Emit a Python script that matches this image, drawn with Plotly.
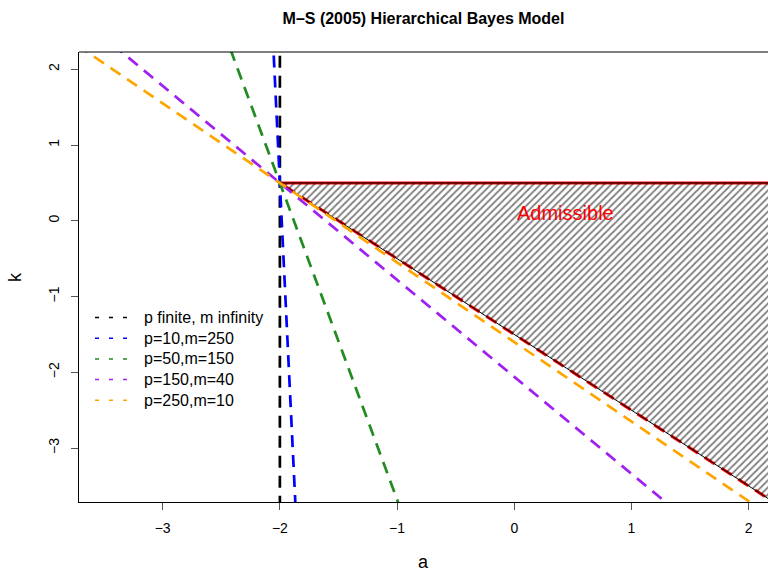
import plotly.graph_objects as go

# ---- data ----
series_names = ["p finite, m infinity", "p=10,m=250", "p=50,m=150", "p=150,m=40", "p=250,m=10"]
series_colors = ["#000000", "#0000FF", "#228B22", "#A020F0", "#FFA500"]
# slopes of the lines k = pivot_k + slope * (a - pivot_a); None = vertical
series_slopes = [None, -32.0, -4.18, -1.28, -1.05]
pivot_a = -2.0
pivot_k = 0.5

# admissible region (hatched), extends past the right edge of the plot
admissible_a = [-2.0, 3.0, 3.0, -2.0]
admissible_k = [0.5, 0.5, -4.5, 0.5]

x_ticks = [-3, -2, -1, 0, 1, 2]
y_ticks = [-3, -2, -1, 0, 1, 2]
x_range = [-3.714, 2.165]
y_range = [-3.712, 2.228]

k_ends = [3.5, -5.5]

W, H = 768, 571
L, R, T, B = 79, 0, 52, 69
PW, PH = W - L - R, H - T - B

font_family = "Liberation Sans, Arial, sans-serif"

fig = go.Figure()

# red boundary lines (top edge solid, diagonal edge dashed)
fig.add_trace(go.Scatter(x=admissible_a[:2], y=admissible_k[:2],
                         mode="lines", line=dict(color="#FF0000", width=3), showlegend=False, hoverinfo="skip"))
fig.add_trace(go.Scatter(x=admissible_a[2:], y=admissible_k[2:], mode="lines",
                         line=dict(color="#FF0000", width=3, dash="12px,8px"), showlegend=False, hoverinfo="skip"))

# hatched admissible polygon
fig.add_trace(go.Scatter(x=admissible_a, y=admissible_k, mode="lines", fill="toself",
                         fillcolor="rgba(0,0,0,0)",
                         fillpattern=dict(shape="/", size=5, solidity=0.35, fgcolor="#000000", bgcolor="rgba(0,0,0,0)"),
                         line=dict(color="#000000", width=1), showlegend=False, hoverinfo="skip"))

# the five dashed lines
for name, col, s in zip(series_names, series_colors, series_slopes):
    if s is None:
        xs = [pivot_a, pivot_a]
    else:
        xs = [pivot_a + (k - pivot_k) / s for k in k_ends]
    fig.add_trace(go.Scatter(x=xs, y=k_ends, mode="lines", name=name,
                             line=dict(color=col, width=2.7, dash="12px,8px"), showlegend=False))

# legend (R style, no box): thin dashed samples + labels
leg_x0, leg_x1, leg_tx = 95, 128, 142
leg_y0, leg_dy = 317.5, 20.7
for i, (name, col) in enumerate(zip(series_names, series_colors)):
    ypx = leg_y0 + i * leg_dy
    yp = 1 - (ypx - T) / PH
    fig.add_shape(type="line", xref="paper", yref="paper",
                  x0=(leg_x0 - L) / PW, x1=(leg_x1 - L) / PW, y0=yp, y1=yp,
                  line=dict(color=col, width=1.5, dash="4px,10px"))
    fig.add_annotation(x=(leg_tx - L) / PW, y=yp, xref="paper", yref="paper", text=name,
                       showarrow=False, xanchor="left", yanchor="middle",
                       font=dict(family=font_family, size=16, color="#000000"))

fig.add_annotation(x=0.44, y=0.1, xref="x", yref="y", text="Admissible", showarrow=False,
                   font=dict(family=font_family, size=20, color="#FF0000"))

fig.add_annotation(x=0.5, y=0, xref="paper", yref="paper", yshift=-60, text="a", showarrow=False,
                   yanchor="middle", font=dict(family=font_family, size=18, color="#000000"))
fig.add_annotation(x=0, y=0.5, xref="paper", yref="paper", xshift=-64, text="k", showarrow=False,
                   xanchor="center", textangle=-90, font=dict(family=font_family, size=18, color="#000000"))

fig.add_shape(type="line", xref="paper", yref="paper", x0=0, x1=1, y0=1, y1=1,
              line=dict(color="#000000", width=1))

fig.update_layout(
    width=W, height=H,
    margin=dict(l=L, r=R, t=T, b=B),
    paper_bgcolor="white", plot_bgcolor="white",
    font=dict(family=font_family, color="#000000"),
    title=dict(text="M–S (2005) Hierarchical Bayes Model", x=0.5, xref="paper", xanchor="center",
               y=1 - 18 / H, yref="container", yanchor="middle",
               font=dict(family=font_family, size=16, weight="bold", color="#000000")),
    showlegend=False,
)

fig.update_xaxes(range=x_range, tickvals=x_ticks, showgrid=False, zeroline=False, automargin=False,
                 showline=True, linecolor="#000000", linewidth=1,
                 ticks="outside", ticklen=7, tickcolor="#555555", ticklabelstandoff=6,
                 tickfont=dict(family=font_family, size=14, color="#000000"))
fig.update_yaxes(range=y_range, tickvals=y_ticks, showgrid=False, zeroline=False, automargin=False,
                 showline=True, linecolor="#000000", linewidth=1,
                 ticks="outside", ticklen=7, tickcolor="#555555", tickangle=-90, ticklabelstandoff=6,
                 tickfont=dict(family=font_family, size=14, color="#000000"))

fig.write_html("out.html", config={"displayModeBar": False},
               post_script="document.body.style.margin='0';")
